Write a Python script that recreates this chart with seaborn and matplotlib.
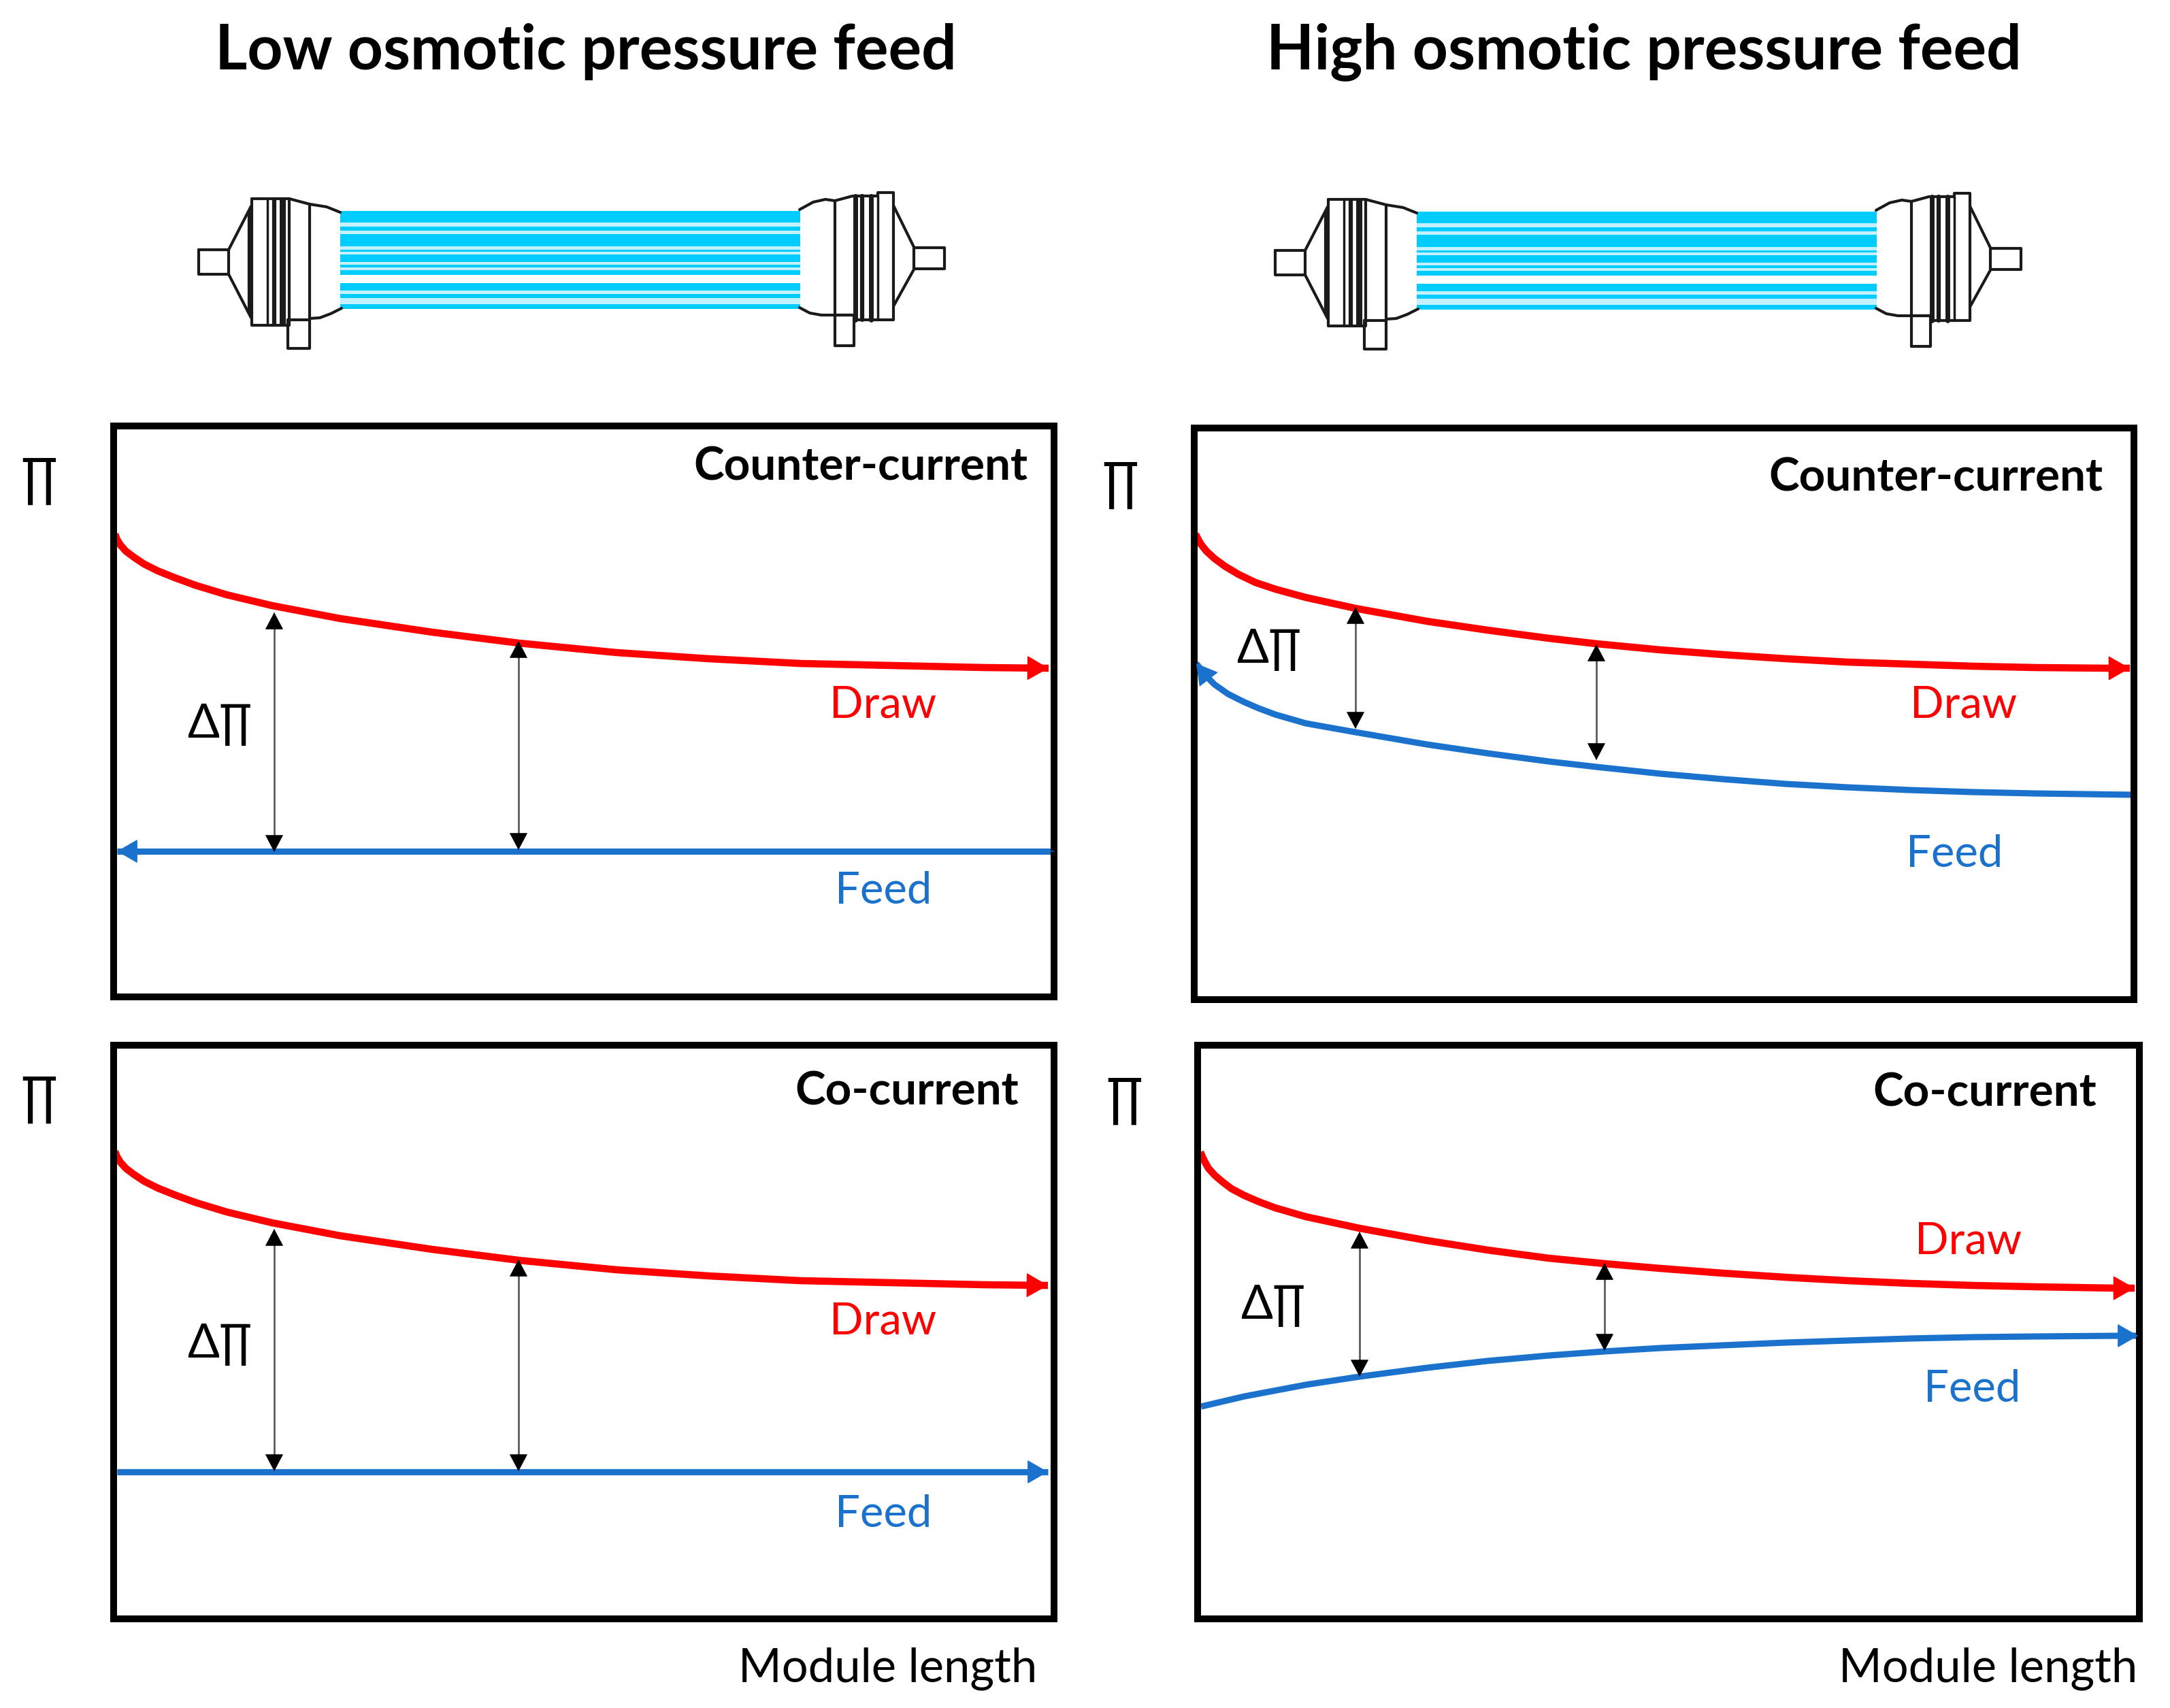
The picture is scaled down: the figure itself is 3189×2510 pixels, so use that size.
import matplotlib
matplotlib.use("Agg")
import matplotlib.pyplot as plt
import seaborn as sns

W, H = 3189, 2510
RED = "#FF0000"
BLUE = "#1B72CC"
CYAN = "#00CCFF"
PALE = "#C4F1FF"
INK = "#1A1A1A"

# ---------- Panel curves (module length, osmotic pressure; arbitrary units) ----------
low_counter_x = [2, 5, 10, 18, 30, 45, 65, 90, 120, 166, 233, 333, 468, 595, 739, 874, 1009, 1144, 1280, 1374]
low_counter_draw = [680, 672, 664, 655, 646, 636, 626, 616, 605, 591, 575, 556, 536, 520, 506, 497, 490, 487, 484, 483]
low_counter_feed_x = [5, 1382]
low_counter_feed = [214, 214]

low_co_x = [2, 5, 10, 18, 30, 45, 65, 90, 120, 166, 233, 333, 468, 595, 739, 874, 1009, 1144, 1280, 1373]
low_co_draw = [687, 679, 671, 662, 653, 643, 633, 623, 612, 598, 582, 563, 543, 527, 513, 504, 497, 494, 491, 490]
low_co_feed_x = [5, 1373]
low_co_feed = [216, 216]

high_counter_x = [2, 6, 10, 18, 30, 45, 65, 90, 120, 164, 237, 342, 431, 521, 591, 685, 777, 869, 960, 1052, 1144, 1236, 1346, 1375]
high_counter_draw = [684, 676, 669, 659, 648, 637, 625, 613, 603, 591, 575, 556, 543, 531, 523, 514, 507, 501, 496, 493, 490, 488, 487, 487]
high_counter_feed_x = [3, 10, 18, 30, 50, 74, 95, 119, 164, 237, 342, 431, 521, 591, 685, 777, 869, 960, 1052, 1144, 1236, 1381]
high_counter_feed = [494, 485, 475, 463, 449, 437, 428, 419, 406, 393, 375, 362, 350, 342, 332, 324, 317, 312, 308, 305, 303, 301]

high_co_x = [4, 8, 12, 16, 25, 38, 50, 69, 90, 114, 159, 238, 337, 426, 516, 598, 680, 772, 864, 955, 1047, 1139, 1231, 1350, 1377]
high_co_draw = [686, 677, 669, 662, 652, 641, 632, 622, 613, 604, 591, 574, 556, 542, 530, 522, 515, 508, 502, 497, 493, 490, 488, 486, 486]
high_co_feed_x = [5, 69, 159, 238, 337, 426, 516, 598, 680, 772, 864, 955, 1047, 1139, 1231, 1355, 1382]
high_co_feed = [312, 327, 344, 356, 369, 379, 387, 393, 398, 402, 406, 409, 412, 414, 415, 416, 416]

# delta-pi arrows: x, upper end, lower end
low_counter_gaps = [(236, 565, 213), (595, 523, 216)]
low_co_gaps = [(236, 573, 217), (595, 528, 217)]
high_counter_gaps = [(237, 577, 398), (591, 522, 352)]
high_co_gaps = [(238, 569, 356), (598, 523, 394)]

# ---------- Module sketch (figure pixels) ----------
fibre_tops = [310, 333, 344, 367, 374, 389, 397, 416, 432, 447]
fibre_bottoms = [327, 339, 362, 370, 385, 393, 404, 427, 438, 454]
gap_tops = [327, 339, 362, 370, 385, 393, 427, 438]
gap_bottoms = [333, 344, 367, 374, 389, 397, 432, 447]
fibre_x0, fibre_x1 = 500, 1176

sns.set_theme(style="white")
plt.rcParams["font.family"] = ["Lato", "DejaVu Sans"]

fig = plt.figure(figsize=(W / 100, H / 100), dpi=100, facecolor="white")


def arrow(ax, tip, tail, color, lw, hl, hw):
    ax.annotate("", xy=tip, xytext=tail, annotation_clip=False,
                arrowprops=dict(arrowstyle=f"-|>,head_length={hl},head_width={hw}", mutation_scale=1,
                                color=color, lw=lw, shrinkA=0, shrinkB=0))


def panel(box, draw_xy, feed_xy, gaps, feed_tip):
    left, right, top, bottom = box
    ax = fig.add_axes([left / W, 1 - bottom / H, (right - left) / W, (bottom - top) / H])
    ax.set_xlim(0, right - left)
    ax.set_ylim(0, bottom - top)
    sns.lineplot(x=draw_xy[0], y=draw_xy[1], ax=ax, color=RED, linewidth=7.6, errorbar=None,
                 solid_capstyle="butt")
    sns.lineplot(x=feed_xy[0], y=feed_xy[1], ax=ax, color=BLUE, linewidth=6.6, errorbar=None,
                 solid_capstyle="butt")
    arrow(ax, (draw_xy[0][-1], draw_xy[1][-1]), (draw_xy[0][-2], draw_xy[1][-2]), RED, 1, 21, 12)
    if feed_tip == "left":
        arrow(ax, (feed_xy[0][0], feed_xy[1][0]), (feed_xy[0][1], feed_xy[1][1]), BLUE, 1, 20, 11.5)
    else:
        arrow(ax, (feed_xy[0][-1], feed_xy[1][-1]), (feed_xy[0][-2], feed_xy[1][-2]), BLUE, 1, 20, 11.5)
    for x, y_top, y_bot in gaps:
        ax.plot([x, x], [y_top - 10, y_bot + 10], color="#555555", lw=1.9)
        arrow(ax, (x, y_top), (x, y_top - 25), "black", 0.5, 17, 9)
        arrow(ax, (x, y_bot), (x, y_bot + 25), "black", 0.5, 17, 9)
    ax.set_xticks([])
    ax.set_yticks([])
    ax.set_xlabel("")
    ax.set_ylabel("")
    for spine in ax.spines.values():
        spine.set_visible(True)
        spine.set_color("black")
        spine.set_linewidth(7.2)
    return ax


panel((167, 1549, 626, 1465), (low_counter_x, low_counter_draw), (low_counter_feed_x, low_counter_feed),
      low_counter_gaps, "left")
panel((1755, 3136, 629, 1469), (high_counter_x, high_counter_draw), (high_counter_feed_x, high_counter_feed),
      high_counter_gaps, "left")
panel((167, 1549, 1536, 2379), (low_co_x, low_co_draw), (low_co_feed_x, low_co_feed),
      low_co_gaps, "right")
panel((1760, 3144, 1536, 2379), (high_co_x, high_co_draw), (high_co_feed_x, high_co_feed),
      high_co_gaps, "right")

# ---------- Overlay in figure pixels for module sketches and text ----------
top = fig.add_axes([0, 0, 1, 1], facecolor="none")
top.axis("off")


def stroke(dx, dy, xs, ys, lw=3.0):
    top.plot([x + dx for x in xs], [y + dy for y in ys], color=INK, lw=lw, solid_joinstyle="round")


def module(dx, dy):
    # pale gaps, then cyan fibres
    for t, b in zip(gap_tops, gap_bottoms):
        top.barh((t + b) / 2 + dy, fibre_x1 - fibre_x0, height=b - t, left=fibre_x0 + dx, color=PALE, lw=0)
    for t, b in zip(fibre_tops, fibre_bottoms):
        top.barh((t + b) / 2 + dy, fibre_x1 - fibre_x0, height=b - t, left=fibre_x0 + dx, color=CYAN, lw=0)
    # left header
    stroke(dx, dy, [292, 336, 336, 292, 292], [367, 367, 403, 403, 367])
    stroke(dx, dy, [336, 369], [367, 303])
    stroke(dx, dy, [336, 369], [403, 467])
    stroke(dx, dy, [370, 425, 425, 370, 370], [292, 292, 478, 478, 292])
    for x, lw in [(367, 4.5), (393, 2.5), (403, 4.5), (414, 5), (419, 1.5)]:
        stroke(dx, dy, [x, x], [294, 476] if x != 367 else [310, 460], lw=lw)
    stroke(dx, dy, [455, 455], [300, 470])
    stroke(dx, dy, [425, 440, 455, 480, 500], [292, 296, 300, 304, 312])
    stroke(dx, dy, [455, 470, 486, 502], [468, 467, 461, 453])
    stroke(dx, dy, [423, 455, 455, 423, 423], [470, 470, 512, 512, 470])
    # right header
    stroke(dx, dy, [1175, 1195, 1213, 1227, 1253], [308, 297, 293, 295, 288])
    stroke(dx, dy, [1175, 1190, 1207, 1227, 1255], [452, 460, 463, 463, 463])
    stroke(dx, dy, [1227, 1227], [295, 508])
    stroke(dx, dy, [1227, 1255, 1255, 1227], [508, 508, 463, 463])
    stroke(dx, dy, [1255, 1290, 1290, 1313, 1313, 1255], [288, 288, 283, 283, 470, 470])
    for x, lw in [(1257, 5), (1267, 4.5), (1280, 5), (1290, 2.5)]:
        stroke(dx, dy, [x, x], [288, 470], lw=lw)
    stroke(dx, dy, [1313, 1343], [302, 363])
    stroke(dx, dy, [1313, 1343], [450, 396])
    stroke(dx, dy, [1343, 1388, 1388, 1343, 1343], [364, 364, 395, 395, 364])


module(0, 0)
module(1582, 1)

top.set_xlim(0, W)
top.set_ylim(H, 0)

LABEL = 48.5
NOTE = 47
PI = 56
DELTA_PI = 50


def note(x, y, s, color="black", size=NOTE, weight="normal", ha="center"):
    top.text(x, y + 4, s, color=color, fontsize=size, fontweight=weight, ha=ha, va="center")


note(861, 72, "Low osmotic pressure feed", size=65.5, weight="bold")
note(2416, 72, "High osmotic pressure feed", size=65.5, weight="bold")

note(1511, 682, "Counter-current", size=LABEL, weight="bold", ha="right")
note(3090, 699, "Counter-current", size=LABEL, weight="bold", ha="right")
note(1497, 1601, "Co-current", size=LABEL, weight="bold", ha="right")
note(3081, 1602, "Co-current", size=LABEL, weight="bold", ha="right")

note(1298, 1032, "Draw", RED)
note(1298, 1306, "Feed", BLUE)
note(2886, 1032, "Draw", RED)
note(2872, 1251, "Feed", BLUE)
note(1298, 1938, "Draw", RED)
note(1298, 2221, "Feed", BLUE)
note(2893, 1820, "Draw", RED)
note(2898, 2038, "Feed", BLUE)

note(1524, 2448, "Module length", size=49.5, ha="right")
note(3141, 2448, "Module length", size=49.5, ha="right")

for x, y in [(57, 704), (1646, 710), (57, 1613), (1652, 1615)]:
    note(x, y, "∏", size=PI)
for x, y in [(323, 1060), (1865, 950), (323, 1971), (1871, 1914)]:
    note(x, y, "Δ∏", size=DELTA_PI)

fig.savefig("out.png", dpi=100)
